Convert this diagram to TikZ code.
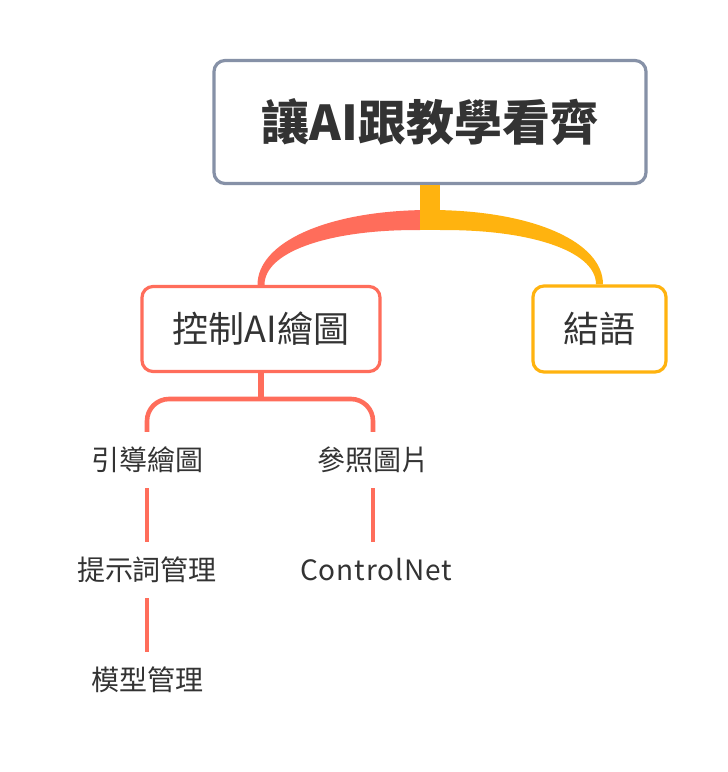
\documentclass[tikz,border=0pt]{standalone}
\usepackage{fontspec}
\setmainfont{Noto Sans CJK TC}
\usetikzlibrary{calc}

\newlength{\du}
\setlength{\du}{1pt}

\definecolor{titlegray}{rgb}{0.525490, 0.568627, 0.654902}
\definecolor{branchred}{rgb}{1.000000, 0.427451, 0.356863}
\definecolor{branchyellow}{rgb}{1.000000, 0.701961, 0.058824}
\definecolor{inkgray}{rgb}{0.200000, 0.200000, 0.200000}

\tikzset{
  topicbox/.style={draw, line width=3.2\du, rounded corners=11\du, fill=white, text=inkgray, inner sep=0pt},
  leaftext/.style={text=inkgray, font=\fontsize{28}{33}\selectfont, minimum height=56\du, inner sep=0pt},
  leafline/.style={draw=branchred, line width=4.6\du},
}

\begin{document}
\begin{tikzpicture}
\pgftransformxscale{1.000000}
\pgftransformyscale{-1.000000}
\fill[white] (0\du,0\du) rectangle (728\du,772\du);
\useasboundingbox (0\du,0\du) rectangle (728\du,772\du);
% topics
\node[topicbox, draw=titlegray, minimum width=432\du, minimum height=123\du, font=\bfseries\fontsize{48}{56}\selectfont] (root) at (430\du,122\du) {讓AI跟教學看齊};
\node[topicbox, draw=branchred, minimum width=238\du, minimum height=85\du, font=\fontsize{36}{42}\selectfont] (ctrl) at (261\du,329\du) {控制AI繪圖};
\node[topicbox, draw=branchyellow, minimum width=133\du, minimum height=86\du, font=\fontsize{36}{42}\selectfont] (ending) at (599.5\du,329\du) {結語};
% main branches
\fill[branchred] ($(root.south)+(-10\du,25\du)$) .. controls +(-95\du,2\du) and +(0\du,-42\du) .. ($(ctrl.north)+(-3.5\du,0\du)$) -- ($(ctrl.north)+(3.5\du,0\du)$) .. controls +(0\du,-35\du) and +(-85\du,-1\du) .. ($(root.south)+(-10\du,45\du)$) -- cycle;
\fill[branchyellow] ($(root.south)+(10\du,25\du)$) .. controls +(95\du,2\du) and +(0\du,-42\du) .. ($(ending.north)+(3.5\du,0\du)$) -- ($(ending.north)+(-3.5\du,0\du)$) .. controls +(0\du,-35\du) and +(85\du,-1\du) .. ($(root.south)+(10\du,45\du)$) -- cycle;
\fill[branchyellow] ($(root.south)+(-10\du,0\du)$) rectangle ($(root.south)+(10\du,45\du)$);
% subtopics
\node[leaftext] (guide) at (147\du,460\du) {引導繪圖};
\node[leaftext] (prompt) at (147\du,570\du) {提示詞管理};
\node[leaftext] (model) at (147\du,680\du) {模型管理};
\node[leaftext] (refimg) at (373\du,460\du) {參照圖片};
\node[leaftext] (cnet) at (376\du,570\du) {\addfontfeatures{LetterSpace=3}ControlNet};
\coordinate (split) at (261\du,399\du);
\draw[leafline, line width=6\du] (ctrl.south) -- (split);
\draw[leafline, rounded corners=22\du] (guide.north) |- (split) -| (refimg.north);
\draw[leafline] (guide.south) -- (prompt.north);
\draw[leafline] (prompt.south) -- (model.north);
\draw[leafline] (refimg.south) -- (cnet.north -| refimg.south);
\end{tikzpicture}
\end{document}
